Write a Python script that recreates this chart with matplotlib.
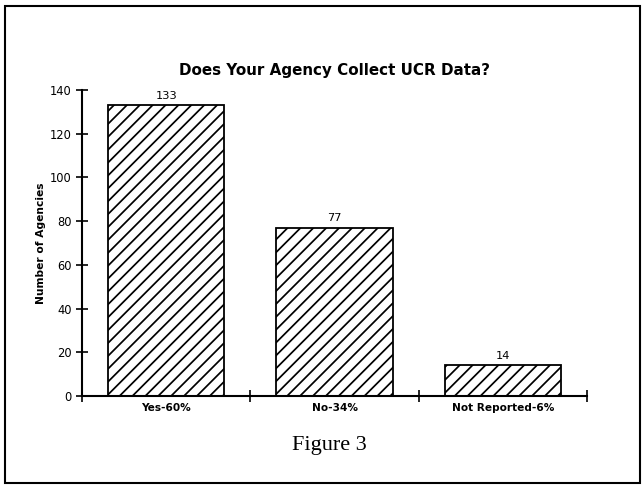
import matplotlib.pyplot as plt
from matplotlib.patches import Rectangle

# Data
categories = ['Yes-60%', 'No-34%', 'Not Reported-6%']
agencies = [133, 77, 14]
y_ticks = [0, 20, 40, 60, 80, 100, 120, 140]

# a larger dpi makes the hatch spacing wider; sizes below are scaled back
DPI = 116
S = 100 / DPI


def main():
    plt.rcParams['hatch.linewidth'] = 1.25 * S
    fig = plt.figure(figsize=(643 / DPI, 489 / DPI), dpi=DPI)
    ax = fig.add_axes([0.1275, 0.19, 0.7855, 0.626])

    positions = [i + 0.5 for i in range(len(categories))]
    bars = ax.bar(positions, agencies, width=0.69, color='white',
                  edgecolor='black', hatch='///', linewidth=1.3 * S)
    for bar, val in zip(bars, agencies):
        ax.text(bar.get_x() + bar.get_width() / 2, val + 2, str(val),
                ha='center', va='bottom', fontsize=8.2 * S)

    ax.set_xlim(0, 3)
    ax.set_ylim(0, 140)
    ax.set_yticks(y_ticks)
    ax.set_xticks([0, 1, 2, 3])
    ax.set_xticklabels([])
    ax.set_xticks(positions, minor=True)
    ax.set_xticklabels(categories, minor=True, fontsize=7.6 * S, fontweight='bold')
    ax.tick_params(axis='x', which='minor', length=0, pad=5 * S)
    ax.tick_params(axis='both', which='major', direction='inout', length=9 * S,
                   width=1.2 * S, labelsize=8.3 * S, pad=3 * S)
    ax.spines['top'].set_visible(False)
    ax.spines['right'].set_visible(False)
    ax.spines['left'].set_linewidth(1.5 * S)
    ax.spines['bottom'].set_linewidth(1.5 * S)

    ax.set_ylabel('Number of Agencies', fontsize=7.7 * S, fontweight='bold',
                  labelpad=3 * S)
    ax.set_title('Does Your Agency Collect UCR Data?', fontsize=10.9 * S,
                 fontweight='bold', pad=11 * S)

    fig.text(0.513, 0.088, 'Figure 3', ha='center', va='center',
             fontsize=16 * S, family='Liberation Serif')
    fig.patches.append(Rectangle((0.008, 0.012), 0.987, 0.976,
                                 transform=fig.transFigure, fill=False,
                                 edgecolor='black', linewidth=1.5 * S))

    fig.savefig('out.png', dpi=DPI)


if __name__ == '__main__':
    main()
